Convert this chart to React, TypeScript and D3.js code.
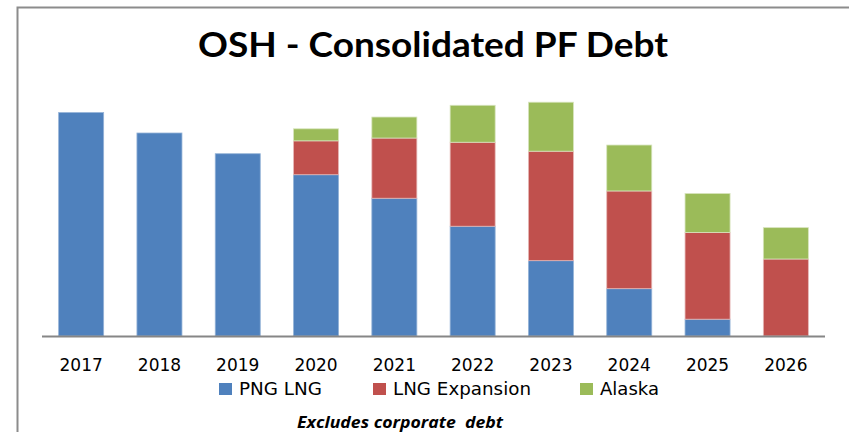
import React, { useEffect, useRef } from "react";
import * as d3 from "d3";

const years = ["2017", "2018", "2019", "2020", "2021", "2022", "2023", "2024", "2025", "2026"];
const pngLng = [7.98, 7.25, 6.51, 5.76, 4.92, 3.92, 2.69, 1.69, 0.6, 0];
const lngExpansion = [0, 0, 0, 1.21, 2.15, 3.0, 3.91, 3.49, 3.1, 2.75];
const alaska = [0, 0, 0, 0.43, 0.75, 1.32, 1.75, 1.64, 1.39, 1.12];

const seriesNames = ["PNG LNG", "LNG Expansion", "Alaska"];
const seriesColors = ["#4F81BD", "#C0504D", "#9BBB59"];
const edgeColors = ["#95B3D7", "#E6B9B8", "#D7E4BD"];

const width = 849;
const height = 432;

const App = () => {
    const svgRef = useRef(null);

    useEffect(() => {
        const svg = d3.select(svgRef.current);
        svg.selectAll("*").remove();

        // frame (left + top edges only visible)
        svg.append("path")
            .attr("d", "M17.5,432 L17.5,7.5 L849,7.5")
            .attr("fill", "none")
            .attr("stroke", "#8c8c8c")
            .attr("stroke-width", 2);

        // title
        svg.append("text")
            .attr("x", 433)
            .attr("y", 57)
            .attr("text-anchor", "middle")
            .attr("font-family", "Lato, 'Open Sans', sans-serif")
            .attr("font-weight", "bold")
            .attr("font-size", 34)
            .attr("textLength", 470)
            .attr("lengthAdjust", "spacingAndGlyphs")
            .attr("fill", "#000")
            .text("OSH - Consolidated PF Debt");

        const rows = years.map((y, i) => ({
            year: y,
            "PNG LNG": pngLng[i],
            "LNG Expansion": lngExpansion[i],
            Alaska: alaska[i],
        }));

        const x = d3.scaleBand()
            .domain(years)
            .range([42, 825])
            .paddingInner(0.425)
            .paddingOuter(0.2125);

        const baseline = 336;
        const y = d3.scaleLinear().domain([0, 10]).range([baseline, baseline - 280]);

        const stacked = d3.stack().keys(seriesNames)(rows);

        stacked.forEach((layer, si) => {
            svg.append("g")
                .selectAll("rect")
                .data(layer)
                .enter()
                .append("rect")
                .attr("x", (d) => x(d.data.year))
                .attr("y", (d) => y(d[1]))
                .attr("width", x.bandwidth())
                .attr("height", (d) => Math.max(0, y(d[0]) - y(d[1])))
                .attr("fill", seriesColors[si])
                .attr("stroke", edgeColors[si])
                .attr("stroke-width", (d) => (d[1] - d[0] > 0 ? 0.8 : 0));
        });

        // axis baseline
        svg.append("line")
            .attr("x1", 42)
            .attr("x2", 825)
            .attr("y1", baseline + 0.5)
            .attr("y2", baseline + 0.5)
            .attr("stroke", "#868686")
            .attr("stroke-width", 2);

        // category labels
        svg.append("g")
            .selectAll("text")
            .data(years)
            .enter()
            .append("text")
            .attr("x", (d) => x(d) + x.bandwidth() / 2)
            .attr("y", 371)
            .attr("text-anchor", "middle")
            .attr("font-family", "'DejaVu Sans', sans-serif")
            .attr("font-size", 17)
            .attr("fill", "#000")
            .text((d) => d);

        // legend
        const legendX = [219, 373, 580];
        const legendLen = [83, 138, 59];
        const legend = svg.append("g");
        seriesNames.forEach((name, i) => {
            legend.append("rect")
                .attr("x", legendX[i])
                .attr("y", 383)
                .attr("width", 13)
                .attr("height", 12)
                .attr("fill", seriesColors[i]);
            legend.append("text")
                .attr("x", legendX[i] + 20)
                .attr("y", 395)
                .attr("font-family", "'DejaVu Sans', sans-serif")
                .attr("font-size", 18)
                .attr("textLength", legendLen[i])
                .attr("lengthAdjust", "spacingAndGlyphs")
                .attr("fill", "#000")
                .text(name);
        });

        // footnote
        svg.append("text")
            .attr("x", 400)
            .attr("y", 428)
            .attr("text-anchor", "middle")
            .attr("font-family", "'Open Sans', sans-serif")
            .attr("font-weight", "bold")
            .attr("font-style", "italic")
            .attr("font-size", 16)
            .attr("textLength", 206)
            .attr("lengthAdjust", "spacingAndGlyphs")
            .attr("fill", "#000")
            .attr("xml:space", "preserve")
            .text("Excludes corporate  debt");
    }, []);

    return (
        <svg
            ref={svgRef}
            width={width}
            height={height}
            style={{ position: "fixed", left: 0, top: 0, background: "#fff" }}
        ></svg>
    );
};

export default App;
